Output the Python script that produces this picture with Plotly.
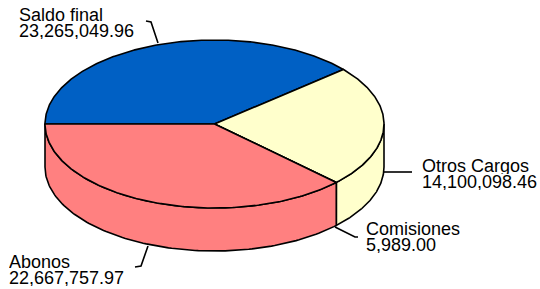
import numpy as np
import plotly.graph_objects as go

# ---- data ----
labels = ["Saldo final", "Otros Cargos", "Comisiones", "Abonos"]
values = [23265049.96, 14100098.46, 5989.00, 22667757.97]
value_text = ["23,265,049.96", "14,100,098.46", "5,989.00", "22,667,757.97"]

# ---- style ----
colors = ["#0060C4", "#FFFFCC", "#C0C0FF", "#FF8080"]
CX, CY, RX, RY, DEPTH = 214.5, 124.0, 169.5, 84.0, 43.0
START = 180.0  # degrees, going clockwise
FONT = dict(family="Liberation Sans, Arial, sans-serif", size=18, color="black")
LW = 1.6

fig = go.Figure()

total = float(np.sum(values))
bounds = [START]
for v in values:
    bounds.append(bounds[-1] - v / total * 360.0)


def pt(t_deg, dy=0.0):
    t = np.radians(t_deg)
    return CX + RX * np.cos(t), CY - RY * np.sin(t) + dy


# side faces (front half only: t in [-180, 0])
for i in range(len(values)):
    a, b = bounds[i], bounds[i + 1]  # a > b
    hi, lo = min(a, 0.0), max(b, -180.0)
    if hi <= lo:
        continue
    ts = np.linspace(hi, lo, 120)
    xs_top, ys_top = pt(ts)
    xs_bot, ys_bot = pt(ts[::-1], DEPTH)
    xs = np.concatenate([xs_top, xs_bot, xs_top[:1]])
    ys = np.concatenate([ys_top, ys_bot, ys_top[:1]])
    fig.add_trace(go.Scatter(x=xs, y=ys, mode="lines", fill="toself",
                             fillcolor=colors[i], line=dict(color="black", width=LW),
                             hoverinfo="skip", showlegend=False))

# top faces
for i in range(len(values)):
    a, b = bounds[i], bounds[i + 1]
    ts = np.linspace(a, b, max(4, int(abs(a - b) * 2)))
    ax, ay = pt(ts)
    xs = np.concatenate([[CX], ax, [CX]])
    ys = np.concatenate([[CY], ay, [CY]])
    fig.add_trace(go.Scatter(x=xs, y=ys, mode="lines", fill="toself",
                             fillcolor=colors[i], line=dict(color="black", width=LW),
                             hoverinfo="skip", showlegend=False))

# leader lines and labels
leaders = [
    ([146, 151, 158], [21, 22, 43]),
    ([384, 412], [172, 172]),
    ([335, 355, 358], [227, 237, 237]),
    ([148, 141, 135], [246, 266, 267]),
]
label_pos = [(18, 21), (421, 172), (365, 235), (8, 268)]
for i, (lx, ly) in enumerate(leaders):
    fig.add_trace(go.Scatter(x=lx, y=ly, mode="lines",
                             line=dict(color="black", width=LW),
                             hoverinfo="skip", showlegend=False))
for i, (x0, base) in enumerate(label_pos):
    for j, txt in enumerate([labels[i], value_text[i]]):
        fig.add_annotation(x=x0, y=base + j * 16.5 - 6.5, text=txt, showarrow=False,
                           xanchor="left", yanchor="middle", font=FONT, height=16,
                           valign="middle", xref="x", yref="y", borderpad=0)

fig.update_layout(
    width=540, height=289, autosize=False,
    margin=dict(l=0, r=0, t=0, b=0),
    paper_bgcolor="white", plot_bgcolor="white",
    xaxis=dict(range=[0, 540], visible=False, fixedrange=True),
    yaxis=dict(range=[289, 0], visible=False, fixedrange=True),
)

fig.write_html("out.html", config={"displayModeBar": False},
               post_script="document.body.style.margin='0';document.body.style.overflow='hidden';")
